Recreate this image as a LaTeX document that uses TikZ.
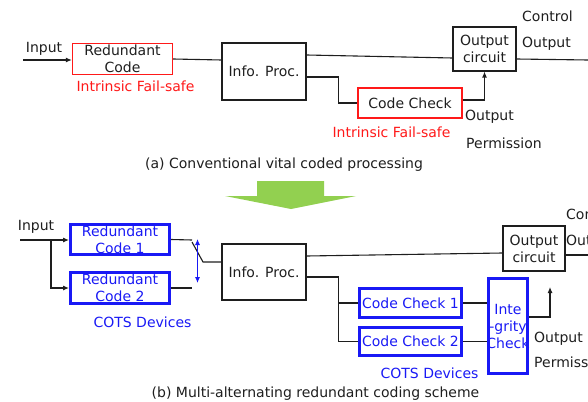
\documentclass[tikz,border=0pt]{standalone}
\usepackage{fontspec}
\setmainfont{DejaVu Sans}
\usetikzlibrary{arrows.meta}
\definecolor{cotsblue}{RGB}{25,25,245}
\definecolor{failred}{RGB}{255,25,25}
\definecolor{flowgreen}{RGB}{146,208,80}
\definecolor{ink}{RGB}{30,30,30}
\newcommand\diagfont{\fontsize{14}{17}\selectfont}
\tikzset{
  box/.style={draw=ink, line width=1.1pt, inner sep=0pt, align=center, text=ink},
  redbox/.style={box, draw=failred, line width=1.3pt},
  bluebox/.style={box, draw=cotsblue, line width=3pt, text=cotsblue},
  wire/.style={draw=ink, line width=1.1pt},
  arr/.style={wire, -{Latex[length=6pt,width=5pt]}},
  txt/.style={inner sep=0pt, anchor=base, text=ink},
  txtw/.style={txt, anchor=base west},
  redtxt/.style={txt, text=failred},
  bluetxt/.style={txt, text=cotsblue},
}
\begin{document}
\begin{tikzpicture}[x=1pt, y=-1pt, font=\diagfont]
\useasboundingbox (0,0) rectangle (588,401);

% ---------------- (a) conventional vital coded processing ----------------
\node[redbox, minimum width=100pt, minimum height=31pt] (rcA) at (122.5,59) {Redundant\\Code};
\node[box, minimum width=84pt, minimum height=57pt] (infoA) at (264,71.5) {Info. Proc.};
\node[box, minimum width=63pt, minimum height=44pt] (outA) at (484.5,49) {Output\\circuit};
\node[redbox, minimum width=104pt, minimum height=30pt] (ccA) at (410,103) {Code Check};

\coordinate (inA) at (23,60);
\coordinate (ctlA) at (588,60);

\draw[arr] (inA) -- (inA -| rcA.west);
\draw[wire] (rcA.east) -- ([yshift=-1pt]infoA.west |- rcA.east);
\draw[wire] ([yshift=16.5pt]infoA.east) -- ([yshift=-9pt]outA.west);
\draw[wire] ([yshift=-10pt]outA.east) -- (ctlA);
\draw[wire] ([yshift=-5.5pt]infoA.east) -- ++(32,0) |- (ccA.west);
\draw[arr] ([yshift=3pt]ccA.east) -| (outA.south);

\node[txt] (inAl) at (44,53) {Input};
\node[redtxt] (fsA1) at (135.5,92) {Intrinsic Fail-safe};
\node[redtxt] (fsA2) at (391.5,137) {Intrinsic Fail-safe};
\node[txtw] (ctlA1) at (522,22) {Control};
\node[txtw] (ctlA2) at (522,48) {Output};
\node[txtw] (permA1) at (465,121) {Output};
\node[txtw] (permA2) at (466,148) {Permission};
\node[txt] (capA) at (284,168) {(a) Conventional vital coded processing};

% ---------------- transition arrow ----------------
\fill[flowgreen] (257,181) -- (324,181) -- (324,196) -- (356,196) -- (291,209)
  -- (225,196) -- (257,196) -- cycle;

% ---------------- (b) multi-alternating redundant coding ----------------
\node[bluebox, minimum width=99pt, minimum height=30pt] (rc1) at (120,239.5) {Redundant\\Code 1};
\node[bluebox, minimum width=99pt, minimum height=31pt] (rc2) at (120,288) {Redundant\\Code 2};
\node[box, minimum width=84pt, minimum height=56pt] (infoB) at (264,272) {Info. Proc.};
\node[box, minimum width=62pt, minimum height=45pt] (outB) at (534,248.5) {Output\\circuit};
\node[bluebox, minimum width=102pt, minimum height=29pt] (cc1) at (410.5,303) {Code Check 1};
\node[bluebox, minimum width=102pt, minimum height=28pt] (cc2) at (410.5,341.5) {Code Check 2};
\node[bluebox, minimum width=39pt, minimum height=95pt] (integ) at (508,326)
  {\makebox[0pt]{Inte}\\\makebox[0pt]{-grity}\\\makebox[0pt]{Check}};

\coordinate (inB) at (20,240);
\coordinate (split) at (51,240);
\coordinate (s1) at (192,240);
\coordinate (s2) at (192,288);
\coordinate (blade) at (192,242);
\coordinate (pivot) at (203,262);
\coordinate (swTop) at (197.5,239);
\coordinate (swBot) at (197.5,283);
\coordinate (ctlB) at (588,255);
\coordinate (permTip) at (550,287);

\draw[arr] (inB) -- (inB -| rc1.west);
\draw[arr] (split) |- (rc2.west);
\draw[wire] (rc1.east) -- (s1);
\draw[wire] (rc2.east) -- (s2);
\draw[wire] (blade) -- (pivot) -- (pivot -| infoB.west);
\draw[cotsblue, line width=1pt, {Latex[length=6pt,width=5pt]}-{Latex[length=6pt,width=5pt]}] (swTop) -- (swBot);

\draw[wire] ([yshift=16pt]infoB.east) -- ([yshift=-4.5pt]outB.west);
\draw[wire] ([yshift=-6.5pt]outB.east) -- (ctlB);
\draw[wire] ([yshift=-5pt]infoB.east) -- ++(32,0) coordinate (jB) |- (cc2.west);
\draw[wire] (jB |- cc1.west) -- (cc1.west);
\draw[wire] (cc1.east) -- (cc1.east -| integ.west);
\draw[wire] (cc2.east) -- (cc2.east -| integ.west);
\draw[arr] ([yshift=9pt]integ.east) -| (permTip);

\node[txt] (inBl) at (36,230) {Input};
\node[bluetxt] (cotsL) at (142.5,327) {COTS Devices};
\node[bluetxt] (cotsR) at (429.5,378) {COTS Devices};
\node[txtw] (ctlB1) at (566,219) {Control};
\node[txtw] (ctlB2) at (566,245) {Output};
\node[txtw] (permB1) at (534,342) {Output};
\node[txtw] (permB2) at (534,367) {Permission};
\node[txt] (capB) at (315.5,397) {(b) Multi-alternating redundant coding scheme};
\end{tikzpicture}
\end{document}
